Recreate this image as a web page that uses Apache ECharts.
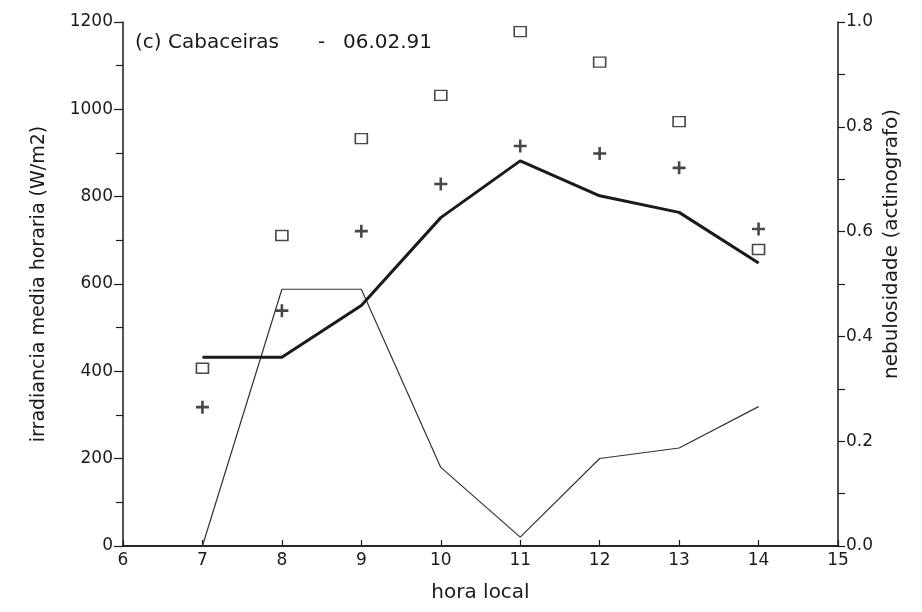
<!DOCTYPE html>
<html>
<head>
<meta charset="utf-8">
<script src="https://cdn.jsdelivr.net/npm/echarts@6/dist/echarts.min.js"></script>
<style>
  html, body { margin: 0; padding: 0; background: #ffffff; }
  #chart { width: 922px; height: 612px; }
</style>
</head>
<body>
<div id="chart"></div>
<script>
// Hours of the day (local time)
const hours = [7, 8, 9, 10, 11, 12, 13, 14];
// Hourly mean irradiance, open squares (W/m2)
const squareValues = [407, 711, 933, 1032, 1178, 1108, 972, 679];
// Hourly mean irradiance, crosses (W/m2)
const crossValues = [318, 539, 721, 829, 916, 899, 866, 726];
// Hourly mean irradiance, thick line (W/m2)
const thickLineValues = [432, 432, 551, 752, 882, 802, 764, 648];
// Cloudiness from the actinograph (0-1), thin line
const cloudValues = [0.0, 0.49, 0.49, 0.15, 0.017, 0.167, 0.187, 0.266];

const leftTicks = [0, 200, 400, 600, 800, 1000, 1200];
const rightTicks = [0.0, 0.2, 0.4, 0.6, 0.8, 1.0];

const pair = (xs, ys) => xs.map((x, i) => [x, ys[i]]);

const ink = '#1a1a1a';
const font = '"DejaVu Sans", Verdana, sans-serif';

const crossPath = 'path://M4,0 H6 V4 H10 V6 H6 V10 H4 V6 H0 V4 H4 Z';

const chart = echarts.init(document.getElementById('chart'));
chart.setOption({
  backgroundColor: '#ffffff',
  animation: false,
  grid: { left: 123, right: 84, top: 22, bottom: 66 },
  xAxis: [
    {
      type: 'value', min: 6, max: 15, interval: 1,
      name: 'hora local', nameLocation: 'middle', nameGap: 37,
      nameTextStyle: { fontFamily: font, fontSize: 20, color: ink },
      axisLine: { lineStyle: { color: ink, width: 1.5 } },
      axisTick: { inside: true, length: 6, lineStyle: { color: ink, width: 1.2 } },
      axisLabel: { fontFamily: font, fontSize: 17, color: ink, margin: 6 },
      splitLine: { show: false }
    },
    {
      type: 'value', min: 6, max: 15, position: 'top',
      axisLine: { show: true, lineStyle: { color: ink, width: 1.5 } },
      axisTick: { show: false }, axisLabel: { show: false }, splitLine: { show: false }
    }
  ],
  yAxis: [
    {
      type: 'value', min: leftTicks[0], max: leftTicks[leftTicks.length - 1], interval: 200,
      name: 'irradiancia media horaria (W/m2)', nameLocation: 'middle', nameGap: 74,
      nameTextStyle: { fontFamily: font, fontSize: 19, color: ink },
      axisLine: { show: true, lineStyle: { color: ink, width: 1.5 } },
      axisTick: { show: true, length: 9, lineStyle: { color: ink, width: 1.2 } },
      minorTick: { show: true, splitNumber: 2, length: 7, lineStyle: { color: ink, width: 1.2 } },
      axisLabel: { fontFamily: font, fontSize: 17, color: ink, margin: 10,
        formatter: v => String(v) },
      splitLine: { show: false }
    },
    {
      type: 'value', min: rightTicks[0], max: rightTicks[rightTicks.length - 1], interval: 0.2,
      position: 'right',
      axisLine: { show: true, lineStyle: { color: ink, width: 1.5 } },
      axisTick: { show: true, length: 7, lineStyle: { color: ink, width: 1.2 } },
      minorTick: { show: true, splitNumber: 2, length: 7, lineStyle: { color: ink, width: 1.2 } },
      axisLabel: { fontFamily: font, fontSize: 17, color: ink, margin: 8,
        formatter: v => v.toFixed(1) },
      splitLine: { show: false }
    }
  ],
  graphic: [
    {
      type: 'text', left: 135, top: 33,
      style: { text: '(c) Cabaceiras', fontFamily: font, fontSize: 20, fill: ink }
    },
    {
      type: 'text', left: 318, top: 33,
      style: { text: '-', fontFamily: font, fontSize: 20, fill: ink }
    },
    {
      type: 'text', left: 343, top: 33,
      style: { text: '06.02.91', fontFamily: font, fontSize: 20, fill: ink }
    },
    {
      // right-hand axis title, set a little above the axis centre
      type: 'text', x: 892, y: 244, rotation: Math.PI / 2,
      style: { text: 'nebulosidade (actinografo)', fontFamily: font, fontSize: 20, fill: ink,
        align: 'center', verticalAlign: 'middle' }
    }
  ],
  series: [
    {
      type: 'line', xAxisIndex: 0, yAxisIndex: 1, data: pair(hours, cloudValues),
      symbol: 'none', lineStyle: { color: '#333', width: 1.2 }, z: 2
    },
    {
      type: 'line', xAxisIndex: 0, yAxisIndex: 0, data: pair(hours, thickLineValues),
      symbol: 'none', lineStyle: { color: ink, width: 3 }, z: 3
    },
    {
      type: 'scatter', xAxisIndex: 0, yAxisIndex: 0, data: pair(hours, squareValues),
      symbol: 'rect', symbolSize: [12, 10],
      itemStyle: { color: '#ffffff', borderColor: ink, borderWidth: 1.5 }, z: 4
    },
    {
      type: 'scatter', xAxisIndex: 0, yAxisIndex: 0, data: pair(hours, crossValues),
      symbol: crossPath, symbolSize: 13,
      itemStyle: { color: ink }, z: 4
    }
  ]
});
</script>
</body>
</html>
